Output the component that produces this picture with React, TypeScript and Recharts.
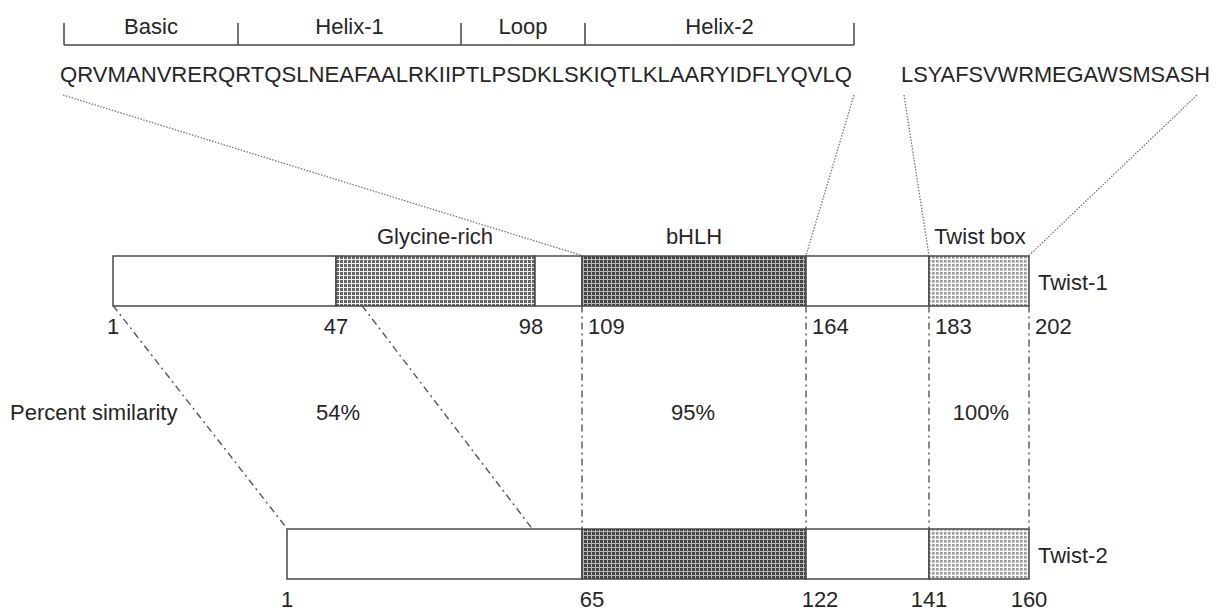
import React from 'react';
import { ComposedChart, Bar, Cell, XAxis, YAxis, ReferenceLine, ReferenceDot } from 'recharts';

const W = 1225;
const H = 612;
const FONT = '"Liberation Sans", Arial, Helvetica, sans-serif';
const INK = '#262626';

// the schematic is not drawn to scale, so the x axis runs in "schematic units"
// and every residue boundary has a position
const twist1Residues = [1, 47, 98, 109, 164, 183, 202];
const twist1Pos = [113, 336, 535, 582, 806, 929, 1029];
const twist1Kinds = ['plain', 'glycine', 'plain', 'bhlh', 'plain', 'box'];

const twist2Residues = [1, 65, 122, 141, 160];
const twist2Pos = [287, 582, 806, 929, 1029];
const twist2Kinds = ['plain', 'bhlh', 'plain', 'box'];

const proteins = ['Twist-1', 'Twist-2'];

const domainNames = ['Glycine-rich', 'bHLH', 'Twist box'];
const domainCenters = [435, 694, 980];

const bhlhSequence = 'QRVMANVRERQRTQSLNEAFAALRKIIPTLPSDKLSKIQTLKLAARYIDFLYQVLQ';
const boxSequence = 'LSYAFSVWRMEGAWSMSASH';
const sequenceSpans = [
  [60, 852],
  [901, 1210],
];

const motifNames = ['Basic', 'Helix-1', 'Loop', 'Helix-2'];
const motifEdges = [64, 238, 461, 585, 854];

const similarityTitle = 'Percent similarity';
const similarityLabels = ['54%', '95%', '100%'];
const similarityCenters = [338, 693, 981];

// twist-1 point -> twist-2 point
const alignPairs = [
  [113, 287],
  [362, 532],
  [582, 582],
  [806, 806],
  [929, 929],
  [1029, 1029],
];

// layout (vertical levels in the same units as the page, measured from the top)
const rowLevels = [280.5, 553.5];
const BAR = 50;

const fills: Record<string, string> = {
  plain: '#ffffff',
  glycine: 'url(#glycine)',
  bhlh: 'url(#bhlh)',
  box: 'url(#box)',
};

const SEGS = 6;
const buildRow = (name: string, pos: number[], level: number) => {
  const row: any = { name, level, lead: pos[0] };
  for (let i = 0; i < SEGS; i++) row['s' + i] = i < pos.length - 1 ? pos[i + 1] - pos[i] : 0;
  return row;
};
const rows = [buildRow(proteins[0], twist1Pos, rowLevels[0]), buildRow(proteins[1], twist2Pos, rowLevels[1])];
const rowKinds = [twist1Kinds, twist2Kinds];

type Txt = {
  key: string;
  x: number;
  y: number;
  text: string;
  anchor?: 'start' | 'middle' | 'end';
  size?: number;
  length?: number;
};

const textMark = (t: Txt) => (
  <ReferenceDot
    key={t.key}
    x={t.x}
    y={t.y}
    r={0}
    ifOverflow="visible"
    shape={(p: any) => (
      <text
        x={p.cx}
        y={p.cy}
        textAnchor={t.anchor ?? 'middle'}
        fontFamily={FONT}
        fontSize={t.size ?? 22}
        fill={INK}
        textLength={t.length}
        lengthAdjust={t.length ? 'spacingAndGlyphs' : undefined}
      >
        {t.text}
      </text>
    )}
  />
);

const seg = (key: string, x1: number, y1: number, x2: number, y2: number, style: any) => (
  <ReferenceLine
    key={key}
    segment={[
      { x: x1, y: y1 },
      { x: x2, y: y2 },
    ]}
    ifOverflow="visible"
    {...style}
  />
);

const bracketStyle = { stroke: '#444', strokeWidth: 1.5 };
const dottedStyle = { stroke: '#777', strokeWidth: 1.3, strokeDasharray: '1.5 1.5' };
const dashDotStyle = { stroke: '#555', strokeWidth: 1.4, strokeDasharray: '7 4 2 4' };

const BRACKET_Y = 45;
const BRACKET_TOP = 23;
const MOTIF_Y = 34;
const SEQ_Y = 82;
const LINK_TOP = 95;
const DOMAIN_Y = 244;
const NUM1_Y = 334;
const PCT_Y = 420;
const NUM2_Y = 607;

const texts: Txt[] = [];
motifNames.forEach((m, i) =>
  texts.push({ key: 'm' + i, x: (motifEdges[i] + motifEdges[i + 1]) / 2, y: MOTIF_Y, text: m }),
);
texts.push({ key: 'seq1', x: sequenceSpans[0][0], y: SEQ_Y, text: bhlhSequence, anchor: 'start', length: sequenceSpans[0][1] - sequenceSpans[0][0] });
texts.push({ key: 'seq2', x: sequenceSpans[1][0], y: SEQ_Y, text: boxSequence, anchor: 'start', length: sequenceSpans[1][1] - sequenceSpans[1][0] });
domainNames.forEach((d, i) => texts.push({ key: 'd' + i, x: domainCenters[i], y: DOMAIN_Y, text: d }));
proteins.forEach((p, i) =>
  texts.push({ key: 'p' + i, x: twist1Pos[twist1Pos.length - 1] + 9, y: rowLevels[i] + 9, text: p, anchor: 'start' }),
);
twist1Residues.forEach((r, i) => {
  const after = i >= 3;
  texts.push({
    key: 'n1' + i,
    x: twist1Pos[i] + (after ? 6 : i === 2 ? -4 : 0),
    y: NUM1_Y,
    text: String(r),
    anchor: after ? 'start' : 'middle',
  });
});
const twist2Shift = [0, 10, 14, 0, 0];
twist2Residues.forEach((r, i) =>
  texts.push({ key: 'n2' + i, x: twist2Pos[i] + twist2Shift[i], y: NUM2_Y, text: String(r) }),
);
texts.push({ key: 'pt', x: 10, y: PCT_Y, text: similarityTitle, anchor: 'start' });
similarityLabels.forEach((s, i) => texts.push({ key: 's' + i, x: similarityCenters[i], y: PCT_Y, text: s }));

const barTop = rowLevels[0] - BAR / 2;
const barBottom = rowLevels[0] + BAR / 2;
const bar2Top = rowLevels[1] - BAR / 2;

export default function App() {
  return (
    <div style={{ position: 'absolute', left: 0, top: 0, background: '#fff' }}>
      <ComposedChart
        width={W}
        height={H}
        data={rows}
        layout="vertical"
        margin={{ top: 0, right: 0, bottom: 0, left: 0 }}
      >
        <defs>
          <pattern id="glycine" width={4} height={4} patternUnits="userSpaceOnUse">
            <rect width={4} height={4} fill="#f0f0f0" />
            <rect width={3} height={3} fill="#666666" />
          </pattern>
          <pattern id="bhlh" width={4} height={4} patternUnits="userSpaceOnUse">
            <rect width={4} height={4} fill="#b8b8b8" />
            <rect width={3} height={3} fill="#444444" />
          </pattern>
          <pattern id="box" width={4} height={4} patternUnits="userSpaceOnUse">
            <rect width={4} height={4} fill="#fafafa" />
            <rect width={2.6} height={2.6} fill="#999999" />
          </pattern>
        </defs>
        <XAxis type="number" domain={[0, W]} allowDataOverflow hide />
        <YAxis type="number" dataKey="level" domain={[0, H]} allowDataOverflow hide />

        <Bar dataKey="lead" stackId="p" fill="none" isAnimationActive={false} barSize={BAR} />
        {Array.from({ length: SEGS }, (_, i) => (
          <Bar
            key={'s' + i}
            dataKey={'s' + i}
            stackId="p"
            stroke="#4a4a4a"
            strokeWidth={1.5}
            isAnimationActive={false}
            barSize={BAR}
          >
            {rows.map((_, r) => (
              <Cell key={r} fill={fills[rowKinds[r][i] ?? 'plain']} />
            ))}
          </Bar>
        ))}

        {/* bracket over the bHLH sequence */}
        {seg('br', motifEdges[0], BRACKET_Y, motifEdges[motifEdges.length - 1], BRACKET_Y, bracketStyle)}
        {motifEdges.map((e, i) => seg('bt' + i, e, BRACKET_TOP, e, BRACKET_Y, bracketStyle))}

        {/* sequence -> Twist-1 domain links */}
        {seg('l0', sequenceSpans[0][0] + 3, LINK_TOP, twist1Pos[3], barTop, dottedStyle)}
        {seg('l1', sequenceSpans[0][1] + 2, LINK_TOP, twist1Pos[4], barTop, dottedStyle)}
        {seg('l2', sequenceSpans[1][0] + 3, LINK_TOP, twist1Pos[5], barTop, dottedStyle)}
        {seg('l3', sequenceSpans[1][1] - 13, LINK_TOP, twist1Pos[6], barTop, dottedStyle)}

        {/* Twist-1 -> Twist-2 alignment */}
        {alignPairs.map(([a, b], i) => seg('a' + i, a, barBottom, b, bar2Top, dashDotStyle))}

        {texts.map(textMark)}
      </ComposedChart>
    </div>
  );
}
